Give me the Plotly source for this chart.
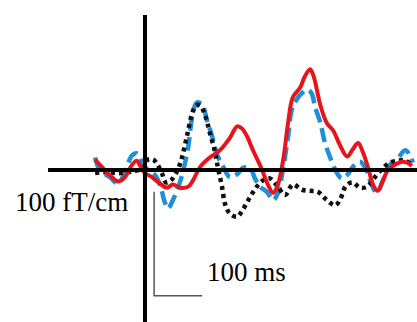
import plotly.graph_objects as go

# time in ms, amplitude in fT/cm
red_t = [-104,-90,-73,-56,-42,-27,-17,-10,0,15,31,46,58,73,90,100,115,135,156,177,192,202,213,225,244,256,267,277,288,298,308,323,333,344,352,365,379,392,406,421,433,444,454,465,475,485,496,506,521,535,546,556]
red_v = [10,3,-5,-11,-7,5,9,4,-3,-7,-13,-17,-14,-17,-16,-10,3,12,19,31,42,40,32,19,0,-14,-22,-14,10,45,70,79,90,97,89,63,45,38,24,13,20,26,17,2,-14,-20,-10,0,5,8,7,4]

blue_t = [-104,-94,-73,-56,-42,-27,-17,-6,6,21,31,42,48,58,69,79,90,98,108,119,129,140,150,163,177,192,204,219,229,240,254,267,277,288,298,308,327,340,348,354,365,375,385,400,410,421,433,448,460,473,483,494,510,525,542,552,558]
blue_v = [12,0,-7,-13,-2,14,16,7,0,-5,-14,-32,-37,-29,-17,-2,22,50,65,63,48,32,15,3,-7,-4,2,2,-8,-16,-21,-29,-22,2,32,61,74,77,73,61,46,26,13,-3,-8,-5,3,8,1,-15,-22,-12,5,10,19,14,7]

black_t = [-104,-83,-52,-21,-4,6,17,25,35,44,54,67,77,88,98,106,115,125,135,146,152,160,167,177,192,204,219,233,246,260,275,292,308,327,344,360,379,396,406,419,433,448,463,477,496,510,527,542,558]
black_v = [-3,-2,-3,-1,2,10,10,6,-3,-12,-10,-1,12,34,54,62,62,53,36,17,2,-15,-33,-42,-45,-38,-26,-16,-10,-8,-15,-24,-14,-19,-20,-21,-29,-34,-29,-15,-12,-17,-16,-8,2,7,9,9,4]

scale_ms = 100
scale_ft = 100
label_amp = "100 fT/cm"
label_time = "100 ms"

fig = go.Figure()
fig.add_trace(go.Scatter(x=blue_t, y=blue_v, mode="lines", line=dict(color="#1f8fd8", width=4.5, dash="14px,6px", shape="spline"), hoverinfo="skip"))
fig.add_trace(go.Scatter(x=black_t, y=black_v, mode="lines", line=dict(color="#111111", width=4.5, dash="4px,4px", shape="spline"), hoverinfo="skip"))
fig.add_trace(go.Scatter(x=red_t, y=red_v, mode="lines", line=dict(color="#e8141b", width=4, shape="spline"), hoverinfo="skip"))

# axes (drawn above traces)
fig.add_shape(type="line", x0=-202, x1=600, y0=0, y1=0, line=dict(color="black", width=4), layer="above")
fig.add_shape(type="line", x0=0, x1=0, y0=149, y1=-160, line=dict(color="black", width=4), layer="above")
# scale bar
sx, sy = 19, -21
fig.add_shape(type="path", path=f"M {sx},{sy} L {sx},{sy - scale_ft} L {sx + scale_ms},{sy - scale_ft}",
              line=dict(color="#555555", width=1.5), layer="above")

fig.add_annotation(x=-275, y=-31, text=label_amp, showarrow=False, xanchor="left", yanchor="middle",
                   font=dict(family="Liberation Serif", size=27, color="black"))
fig.add_annotation(x=125, y=-98, text=label_time, showarrow=False, xanchor="left", yanchor="middle",
                   font=dict(family="Liberation Serif", size=27, color="black"))

fig.update_layout(width=417, height=322, margin=dict(l=0, r=0, t=0, b=0),
                  paper_bgcolor="white", plot_bgcolor="white", showlegend=False,
                  xaxis=dict(range=[-302.1, 566.7], visible=False, fixedrange=True),
                  yaxis=dict(range=[-146.2, 163.5], visible=False, fixedrange=True))
fig.write_html("out.html", post_script="document.body.style.margin='0';", config={"displayModeBar": False})
